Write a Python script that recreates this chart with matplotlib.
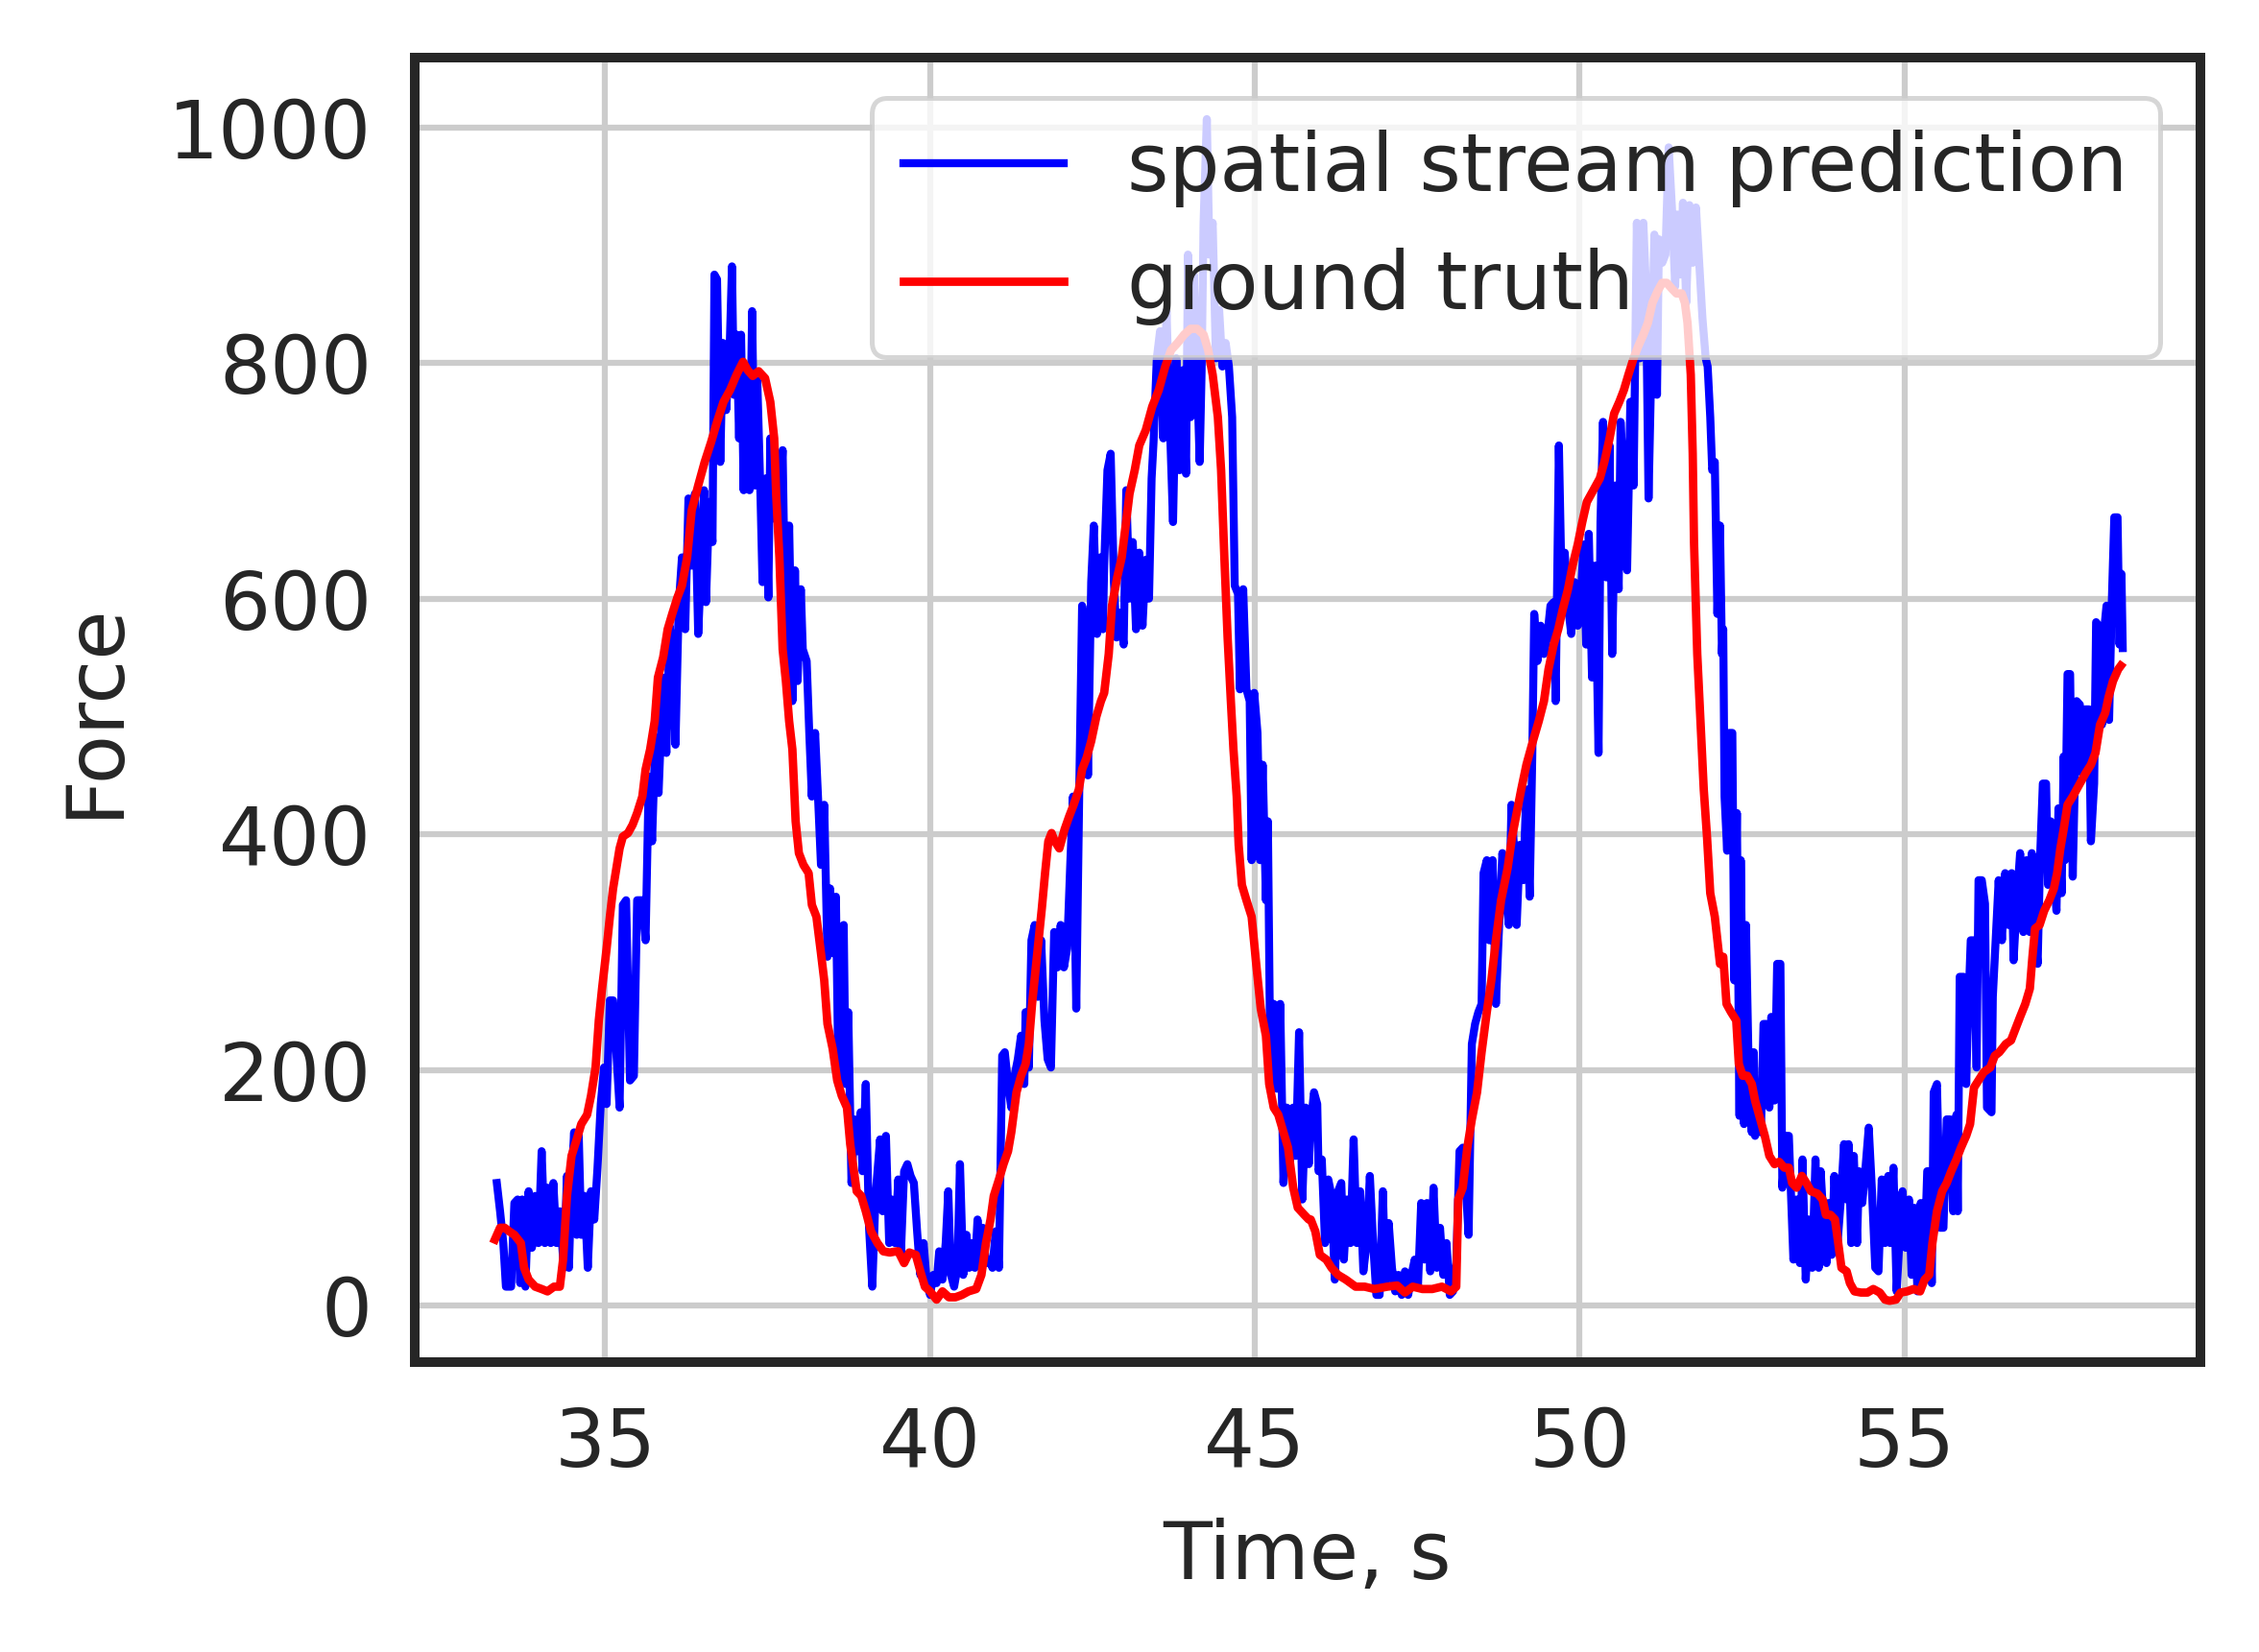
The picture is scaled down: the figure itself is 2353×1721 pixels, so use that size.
import matplotlib
matplotlib.use("Agg")
import matplotlib.pyplot as plt
import numpy as np

# ---------------- data (time in s, force) ----------------
blue_part1 = [(33.33,104),(33.38,80),(33.43,53),(33.47,16),(33.55,16),(33.60,87),(33.65,90),(33.69,19),(33.72,90),(33.77,16),
 (33.82,97),(33.87,49),(33.92,93),(33.97,53),(34.02,131),(34.07,53),(34.11,100),(34.16,53),(34.20,104),(34.25,53),
 (34.30,80),(34.36,32),(34.41,110),(34.44,32),(34.48,107),(34.52,147),(34.56,60),(34.59,147),(34.63,60),(34.68,93),
 (34.73,32),(34.78,97),(34.83,73),(34.88,117),(34.93,171),(34.98,202),(35.02,171),(35.07,259),(35.12,259),(35.17,215),
 (35.22,168),(35.27,340),(35.32,344),(35.38,191),(35.44,195),(35.49,344),(35.57,344),(35.62,310),(35.67,449),(35.72,394),
 (35.77,482),(35.82,435),(35.89,533),(35.94,469),(35.99,577),(36.04,553),(36.08,476),(36.13,594),(36.18,635),(36.23,574),
 (36.28,685)]
blue_part2 = [(36.33,628),(36.38,689),(36.43,570),(36.48,635),(36.52,692),(36.55,597),(36.60,682),(36.65,648),(36.68,875),(36.72,871),
 (36.77,716),(36.81,817),(36.86,760),(36.91,804),(36.95,882),(36.98,773),(37.02,824),(37.06,736),(37.09,824),(37.13,692),
 (37.17,794),(37.22,692),(37.26,844),(37.30,696),(37.34,785),(37.39,685),(37.42,614),(37.47,702),(37.51,601),(37.54,736),
 (37.59,668),(37.62,689),(37.67,662),(37.73,726),(37.78,547),(37.83,662),(37.88,513),(37.92,624),(37.96,530),(38.01,608),
 (38.04,557),(38.10,547),(38.14,486),(38.18,432),(38.23,486),(38.28,425),(38.32,374),(38.37,425),(38.42,296),(38.46,354),
 (38.51,299),(38.55,347),(38.59,188),(38.62,293),(38.67,323),(38.70,188),(38.74,249),(38.79,104),(38.84,158),(38.89,131),
 (38.93,164),(38.96,114),(39.01,188),(39.06,66),(39.11,16),(39.16,93),(39.23,141),(39.27,80),(39.32,144),(39.37,53),
 (39.41,90),(39.46,53)]
blue_part3 = [(39.51,107),(39.55,43),(39.60,114),(39.65,120),(39.70,110),(39.75,104),(39.80,63),(39.85,26),(39.90,53),(39.95,19),
 (40.00,9),(40.05,26),(40.10,19),(40.14,46),(40.19,22),(40.24,53),(40.28,97),(40.32,26),(40.37,16),(40.42,32),
 (40.46,120),(40.51,26),(40.56,60),(40.60,32),(40.65,53),(40.69,32),(40.73,73),(40.78,39),(40.81,66),(40.86,36),
 (40.91,39),(40.96,32),(41.01,63),(41.06,32),(41.11,212),(41.15,215),(41.20,188),(41.25,168),(41.30,195),(41.35,209),
 (41.40,229),(41.45,188),(41.47,249),(41.52,202),(41.56,310),(41.61,323),(41.66,262),(41.71,310),(41.76,242),(41.81,209),
 (41.86,202),(41.91,317),(41.96,287),(42.01,323),(42.06,287),(42.11,303),(42.16,378),(42.20,432),(42.25,252),(42.30,452),
 (42.34,594),(42.39,574),(42.43,450),(42.48,614),(42.52,662),(42.57,570),(42.62,635),(42.66,574)]
blue_part4 = [(42.68,628),(42.73,709),(42.78,723),(42.83,614),(42.87,567),(42.92,588),(42.98,561),(43.02,692),(43.07,600),(43.12,648),
 (43.17,574),(43.22,639),(43.27,577),(43.32,633),(43.37,600),(43.41,702),(43.44,733),(43.49,804),(43.54,827),(43.59,736),
 (43.64,844),(43.69,750),(43.74,665),(43.79,804),(43.84,709),(43.89,794),(43.94,706),(43.97,892),(44.01,754),(44.06,875),
 (44.11,790),(44.15,716),(44.18,794),(44.21,919),(44.26,1007),(44.30,892),(44.35,919),(44.40,804),(44.45,845),(44.50,797),
 (44.55,817),(44.60,797),(44.65,754),(44.69,611),(44.74,604),(44.77,523),(44.82,608),(44.87,523),(44.92,513),(44.95,378),
 (44.99,520),(45.04,486),(45.08,378),(45.12,459),(45.17,344),(45.20,411),(45.24,188),(45.29,256),(45.34,184),(45.39,256),
 (45.44,104),(45.49,168),(45.54,120),(45.59,168),(45.63,127),(45.68,232),(45.73,90),(45.78,168),(45.83,120)]
blue_part5 = [(45.86,154),(45.91,181),(45.96,171),(45.98,114),(46.03,124),(46.08,53),(46.13,107),(46.18,93),(46.23,22),(46.28,97),
 (46.33,104),(46.37,39),(46.42,90),(46.47,53),(46.52,141),(46.57,53),(46.62,97),(46.67,29),(46.72,53),(46.77,110),
 (46.82,53),(46.87,9),(46.92,9),(46.97,97),(47.01,19),(47.06,70),(47.11,32),(47.16,12),(47.21,26),(47.26,9),
 (47.31,29),(47.36,9),(47.41,26),(47.46,39),(47.51,16),(47.56,87),(47.61,39),(47.65,87),(47.70,29),(47.75,100),
 (47.80,32),(47.85,66),(47.90,26),(47.95,53),(48.00,9),(48.05,12),(48.10,36),(48.15,131),(48.20,134),(48.25,97),
 (48.29,60),(48.34,222),(48.39,239),(48.44,249),(48.49,256),(48.52,367),(48.57,378),(48.61,310),(48.66,378),(48.71,256),
 (48.76,323),(48.81,384),(48.86,350),(48.91,323),(48.95,425),(49.00,378)]
blue_part6 = [(49.03,323),(49.08,391),(49.13,361),(49.18,438),(49.23,347),(49.27,466),(49.30,587),(49.35,547),(49.40,577),(49.45,553),
 (49.50,567),(49.55,594),(49.60,597),(49.63,513),(49.68,730),(49.73,587),(49.77,639),(49.82,594),(49.87,570),(49.92,614),
 (49.97,577),(50.01,594),(50.06,646),(50.10,561),(50.14,655),(50.19,533),(50.24,628),(50.29,469),(50.32,665),(50.36,750),
 (50.41,618),(50.46,730),(50.50,553),(50.55,696),(50.60,608),(50.63,750),(50.68,696),(50.73,624),(50.78,767),(50.83,696),
 (50.88,919),(50.93,804),(50.98,919),(51.02,865),(51.06,685),(51.10,790),(51.15,909),(51.19,773),(51.22,905),(51.27,885),
 (51.32,892),(51.37,983),(51.42,932),(51.47,865),(51.50,926),(51.55,875),(51.59,936),(51.64,851),(51.69,934),(51.74,885),
 (51.79,932),(51.84,885),(51.89,838),(51.94,804),(51.97,797),(52.01,754),(52.04,709),(52.08,716),(52.12,587),(52.16,662),
 (52.19,553)]
blue_part7 = [(52.21,574),(52.23,432),(52.27,386),(52.30,486),(52.35,486),(52.38,276),(52.42,418),(52.46,161),(52.48,378),(52.53,154),
 (52.56,323),(52.60,205),(52.65,147),(52.68,215),(52.70,144),(52.75,188),(52.79,147),(52.83,239),(52.87,239),(52.92,168),
 (52.95,245),(53.00,174),(53.04,290),(53.09,290),(53.12,100),(53.17,144),(53.22,144),(53.25,100),(53.29,39),(53.34,90),
 (53.39,36),(53.43,124),(53.48,22),(53.53,73),(53.58,32),(53.63,124),(53.68,32),(53.71,114),(53.76,66),(53.80,36),
 (53.83,87),(53.88,43),(53.92,110),(53.97,53),(54.02,90),(54.07,137),(54.11,90),(54.14,137),(54.18,53),(54.22,127),
 (54.27,53),(54.30,114),(54.35,87),(54.40,117),(54.45,151),(54.50,97),(54.55,32),(54.60,29),(54.65,107),(54.70,53),
 (54.75,110),(54.78,53),(54.83,117),(54.88,12),(54.93,63),(54.97,97),(55.02,49),(55.07,90),(55.11,26),(55.15,83),
 (55.20,12),(55.25,87),(55.30,26),(55.35,114)]
blue_part8 = [(55.38,114),(55.42,19),(55.45,181),(55.50,188),(55.55,66),(55.60,66),(55.65,158),(55.70,158),(55.75,80),(55.80,162),
 (55.82,80),(55.85,279),(55.91,279),(55.95,188),(55.98,249),(56.02,310),(56.07,310),(56.11,202),(56.14,361),(56.19,361),
 (56.24,341),(56.27,168),(56.34,164),(56.36,262),(56.41,317),(56.45,361),(56.50,310),(56.55,367),(56.60,323),(56.65,367),
 (56.68,293),(56.73,344),(56.78,384),(56.83,317),(56.88,378),(56.93,317),(56.96,384),(57.00,323),(57.05,290),(57.09,384),
 (57.13,443),(57.18,443),(57.21,357),(57.25,411),(57.30,367),(57.34,335),(57.37,422),(57.42,350),(57.45,466),(57.47,378),
 (57.51,536),(57.55,536),(57.59,364),(57.62,438),(57.65,513),(57.70,510),(57.74,452),(57.78,506),(57.84,506),(57.87,394),
 (57.92,443),(57.95,580),(57.99,577),(58.04,493),(58.08,577),(58.11,594),(58.15,497),(58.19,594),(58.23,669),(58.28,669),
 (58.31,561),(58.34,621),(58.36,558)]

red_part1 = [(33.30,56),(33.38,66),(33.45,66),(33.52,63),(33.60,60),(33.70,53),(33.75,32),(33.82,22),(33.92,16),(34.02,14),
 (34.11,12),(34.21,16),(34.30,16),(34.35,39),(34.41,93),(34.48,127),(34.56,141),(34.63,154),(34.72,162),(34.78,178),
 (34.85,202),(34.90,242),(34.95,269),(35.02,303),(35.07,330),(35.12,354),(35.17,371),(35.22,388),(35.27,398),(35.35,401),
 (35.42,408),(35.49,418),(35.57,432),(35.62,455),(35.69,472),(35.76,496),(35.81,533),(35.89,550),(35.96,574),(36.03,587),
 (36.11,601),(36.18,611),(36.26,635)]
red_part2 = [(36.33,675),(36.43,696),(36.53,716),(36.63,733),(36.72,750),(36.82,767),(36.92,777),(37.02,790),(37.12,801),(37.19,794),
 (37.27,789),(37.36,793),(37.46,787),(37.54,767),(37.60,736),(37.63,689),(37.68,635),(37.73,557),(37.78,530),(37.83,496),
 (37.88,472),(37.93,411),(37.98,384),(38.05,374),(38.13,367),(38.18,340),(38.25,330),(38.32,299),(38.37,276),(38.42,239),
 (38.50,218),(38.57,191),(38.64,178),(38.72,168),(38.77,137),(38.82,117),(38.87,97),(38.94,93),(39.01,80),(39.09,63),
 (39.19,53),(39.28,46),(39.38,45),(39.48,46)]
red_part3 = [(39.51,46),(39.60,36),(39.68,45),(39.78,43),(39.85,29),(39.92,16),(40.00,12),(40.10,5),(40.19,12),(40.29,7),
 (40.39,7),(40.49,9),(40.59,12),(40.71,14),(40.79,26),(40.86,53),(40.93,73),(40.98,93),(41.06,107),(41.13,120),
 (41.20,131),(41.25,147),(41.33,181),(41.40,195),(41.47,205),(41.52,222),(41.57,256),(41.62,283),(41.67,310),(41.72,337),
 (41.77,367),(41.82,394),(41.87,401),(41.92,394),(41.99,388),(42.07,404),(42.14,415),(42.21,425),(42.29,438),(42.34,455),
 (42.41,465),(42.48,479),(42.56,500),(42.63,513)]
red_part4 = [(42.68,520),(42.75,553),(42.80,594),(42.88,618),(42.95,635),(43.01,662),(43.07,689),(43.15,709),(43.22,730),(43.32,743),
 (43.42,763),(43.52,777),(43.62,797),(43.71,811),(43.81,817),(43.91,824),(44.01,829),(44.11,829),(44.21,824),(44.28,811),
 (44.35,790),(44.43,754),(44.48,709),(44.53,635),(44.58,567),(44.63,513),(44.67,472),(44.72,432),(44.75,391),(44.80,357),
 (44.87,344),(44.95,330),(45.02,290),(45.09,252),(45.17,229),(45.22,188),(45.29,168),(45.36,162),(45.44,147),(45.51,134),
 (45.59,100),(45.66,83),(45.76,77),(45.83,73)]
red_part5 = [(45.86,73),(45.93,63),(46.00,43),(46.10,39),(46.18,32),(46.28,26),(46.40,22),(46.55,16),(46.69,16),(46.84,14),
 (47.04,16),(47.19,17),(47.31,11),(47.43,16),(47.58,14),(47.73,14),(47.88,16),(48.02,12),(48.10,16),(48.13,90),
 (48.20,100),(48.27,134),(48.34,158),(48.42,181),(48.49,215),(48.57,249),(48.64,276),(48.71,310),(48.79,344),(48.89,371),
 (48.96,398)]
red_part6 = [(49.03,418),(49.10,438),(49.18,459),(49.28,479),(49.37,496),(49.45,513),(49.52,540),(49.60,561),(49.67,574),(49.74,591),
 (49.82,608),(49.89,628),(49.97,646),(50.04,665),(50.11,682),(50.21,692),(50.31,702),(50.38,716),(50.46,736),(50.53,757),
 (50.61,767),(50.68,777),(50.75,790),(50.83,804),(50.90,814),(50.98,824),(51.05,834),(51.12,851),(51.20,861),(51.27,868),
 (51.34,868),(51.42,863),(51.49,859),(51.57,859),(51.62,851),(51.66,834),(51.71,790),(51.74,723),(51.76,648),(51.81,553),
 (51.86,496),(51.91,438),(51.96,398),(52.01,350),(52.08,330),(52.16,290)]
red_part7 = [(52.21,296),(52.26,256),(52.33,249),(52.41,242),(52.45,205),(52.51,195),(52.58,195),(52.65,188),(52.70,174),(52.78,158),
 (52.85,144),(52.92,127),(53.00,120),(53.07,122),(53.15,117),(53.22,117),(53.27,104),(53.34,100),(53.42,110),(53.49,104),
 (53.56,97),(53.66,95),(53.74,90),(53.79,77),(53.86,77),(53.93,73),(53.98,53),(54.03,32),(54.11,29),(54.16,19),
 (54.23,12),(54.33,11),(54.43,11),(54.52,14),(54.62,11),(54.70,5),(54.77,4),(54.87,5),(54.94,11),(55.04,12),
 (55.14,14),(55.24,12),(55.31,22)]
red_part8 = [(55.38,26),(55.43,53),(55.50,80),(55.58,97),(55.65,104),(55.72,114),(55.80,124),(55.87,134),(55.95,144),(56.01,154),
 (56.07,185),(56.14,191),(56.22,198),(56.32,202),(56.39,212),(56.46,215),(56.56,222),(56.64,225),(56.71,235),(56.78,245),
 (56.86,256),(56.93,269),(56.97,296),(57.01,320),(57.08,323),(57.15,335),(57.23,344),(57.30,354),(57.35,367),(57.40,388),
 (57.45,404),(57.51,425),(57.59,432),(57.65,438),(57.72,445),(57.79,452),(57.87,459),(57.94,469),(58.01,493),(58.09,503),
 (58.14,516),(58.21,530),(58.29,540),(58.33,543)]

x_ticks = [35, 40, 45, 50, 55]
y_ticks = [0, 200, 400, 600, 800, 1000]
series_labels = ["spatial stream prediction", "ground truth"]
x_label = "Time, s"
y_label = "Force"

blue = np.array(blue_part1 + blue_part2 + blue_part3 + blue_part4 +
                blue_part5 + blue_part6 + blue_part7 + blue_part8)
red = np.array(red_part1 + red_part2 + red_part3 + red_part4 +
               red_part5 + red_part6 + red_part7 + red_part8)

# ---------------- style ----------------
text_color = "#262626"
plt.rcParams.update({
    "font.family": ["DejaVu Sans"],
    "text.color": text_color,
    "axes.labelcolor": text_color,
    "xtick.color": text_color,
    "ytick.color": text_color,
    "axes.edgecolor": text_color,
})

DPI = 600
FS = 10
fig = plt.figure(figsize=(2353 / DPI, 1721 / DPI), dpi=DPI)
ax = fig.add_axes([0.1837, 0.1755, 0.7902, 0.7895])

ax.plot(blue[:, 0], blue[:, 1], color="#0000ff", lw=1.0, label=series_labels[0])
ax.plot(red[:, 0], red[:, 1], color="#ff0000", lw=1.05, label=series_labels[1])

ax.set_xlim(32.07, 59.55)
ax.set_ylim(-48, 1059)
ax.set_xticks(x_ticks)
ax.set_yticks(y_ticks)
ax.grid(True, color="#cccccc", lw=0.75)
ax.set_axisbelow(True)
for s in ax.spines.values():
    s.set_linewidth(1.2)
    s.set_color(text_color)
ax.tick_params(axis="both", length=0, pad=5.4, labelsize=FS)
ax.set_xlabel(x_label, fontsize=FS, labelpad=4.3)
ax.set_ylabel(y_label, fontsize=FS, labelpad=4.3)

leg = ax.legend(loc="upper right", fontsize=FS, frameon=True, fancybox=True,
                framealpha=0.8, edgecolor="#cccccc", borderaxespad=0.5)
leg.get_frame().set_linewidth(0.6)

fig.savefig("out.png", dpi=DPI)
